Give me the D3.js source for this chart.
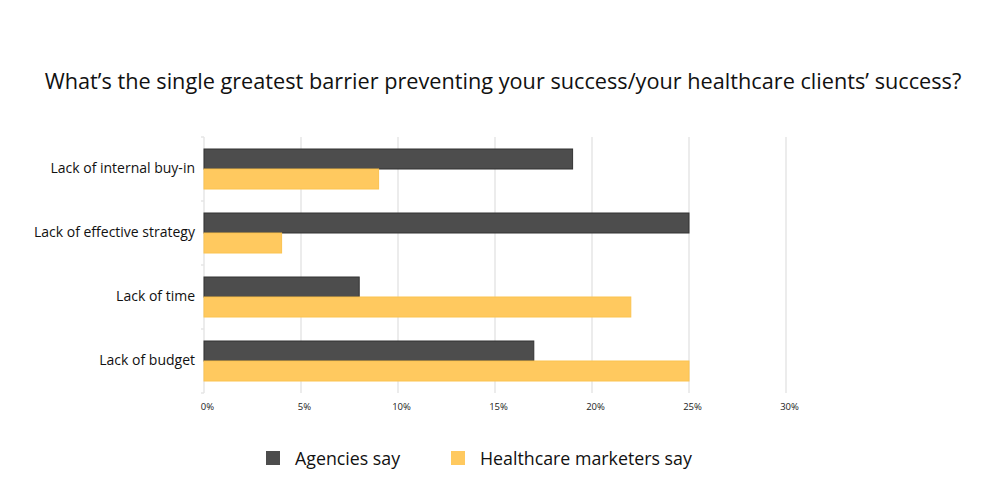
<!DOCTYPE html>
<html>
<head>
<meta charset="utf-8">
<script src="https://cdn.jsdelivr.net/npm/d3@7"></script>
<style>
  body { margin: 0; background: #fff; }
  text { font-family: "Open Sans", Lato, sans-serif; fill: #111; }
</style>
</head>
<body>
<script>
var width = 1000, height = 500;

var categories = ["Lack of internal buy-in", "Lack of effective strategy", "Lack of time", "Lack of budget"];
var seriesNames = ["Agencies say", "Healthcare marketers say"];
var agencies = [19, 25, 8, 17];
var marketers = [9, 4, 22, 25];
var xTicks = [0, 5, 10, 15, 20, 25, 30];

var colors = ["#4d4d4d", "#ffc95f"];
var strokes = ["#333333", "#fbc350"];
var fontFam = "'Open Sans', Lato, sans-serif";

var svg = d3.select("body")
    .append("svg")
        .attr("width", width)
        .attr("height", height);

svg.append("text")
    .text("What\u2019s the single greatest barrier preventing your success/your healthcare clients\u2019 success?")
    .attr("x", 503)
    .attr("y", 89)
    .attr("text-anchor", "middle")
    .attr("font-size", "21.7px");

var x = d3.scaleLinear().domain([0, 30]).range([204, 786]);
var y = d3.scaleBand().domain(categories).range([137, 393]).padding(0);
var ySub = d3.scaleBand().domain(seriesNames).range([0, y.bandwidth()]).paddingInner(0).paddingOuter(0.6);

// grid
svg.append("g")
    .selectAll("line")
    .data(xTicks)
    .join("line")
        .attr("x1", function(d) { return x(d); })
        .attr("x2", function(d) { return x(d); })
        .attr("y1", 137)
        .attr("y2", 393)
        .style("stroke", "#e6e6e6")
        .style("stroke-width", 1.5);

// y axis labels
var yAxis = d3.axisLeft(y).tickSize(0).tickPadding(9);
var gy = svg.append("g")
    .attr("transform", "translate(" + x(0) + ",0)")
    .call(yAxis);
gy.select(".domain").remove();
gy.selectAll("text").attr("font-size", "14px").style("font-family", fontFam).style("fill", "#111");
svg.append("g")
    .selectAll("line")
    .data(categories.concat([null]))
    .join("line")
        .attr("x1", x(0) - 3)
        .attr("x2", x(0))
        .attr("y1", function(d, i) { return 137 + i * y.step(); })
        .attr("y2", function(d, i) { return 137 + i * y.step(); })
        .style("stroke", "#e6e6e6")
        .style("stroke-width", 1.5);

// x axis
var xAxis = d3.axisBottom(x).tickValues(xTicks).tickSize(0).tickPadding(10)
    .tickFormat(function(d) { return d + "%"; });
var gx = svg.append("g")
    .attr("transform", "translate(3,393)")
    .call(xAxis);
gx.select(".domain").remove();
gx.selectAll("text").attr("font-size", "9.5px").style("font-family", fontFam).style("fill", "#222");

// bars
var rows = categories.map(function(c, i) {
    return [
        { cat: c, s: 0, name: seriesNames[0], v: agencies[i] },
        { cat: c, s: 1, name: seriesNames[1], v: marketers[i] }
    ];
});

svg.append("g")
    .selectAll("g")
    .data(rows)
    .join("g")
        .attr("transform", function(d) { return "translate(0," + y(d[0].cat) + ")"; })
    .selectAll("rect")
    .data(function(d) { return d; })
    .join("rect")
        .attr("x", x(0))
        .attr("y", function(d) { return ySub(d.name); })
        .attr("width", function(d) { return x(d.v) - x(0); })
        .attr("height", ySub.bandwidth())
        .style("fill", function(d) { return colors[d.s]; })
        .style("stroke", function(d) { return strokes[d.s]; })
        .style("stroke-width", 1);

// legend
var legendX = [266, 451];
var legend = svg.append("g")
    .selectAll("g")
    .data(seriesNames)
    .join("g")
        .attr("transform", function(d, i) { return "translate(" + legendX[i] + ",451)"; });

legend.append("rect")
    .attr("width", 14)
    .attr("height", 14)
    .style("fill", function(d, i) { return colors[i]; });

legend.append("text")
    .text(function(d) { return d; })
    .attr("x", 29)
    .attr("y", 14)
    .attr("font-size", "17.8px");
</script>
</body>
</html>
